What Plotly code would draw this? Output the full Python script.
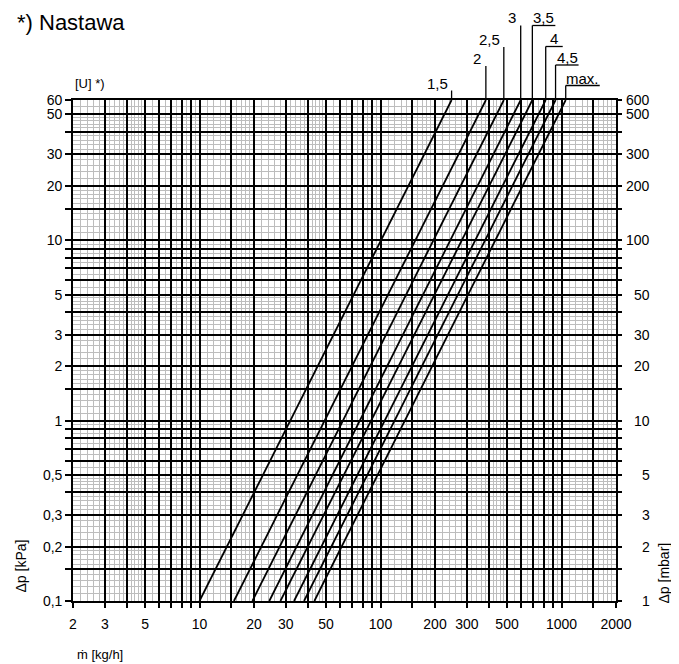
import math
import plotly.graph_objects as go

# ---------------- data ----------------
settings = ["1,5", "2", "2,5", "3", "3,5", "4", "4,5", "max."]
dp_min_kpa = 0.1
dp_max_kpa = 60
flow_at_dp_min = [10, 15.5, 19.6, 24.3, 28.0, 33.3, 37.8, 43.1]      # kg/h at 0.1 kPa
flow_at_dp_max = [247, 382, 480, 595, 690, 818, 927, 1055]           # kg/h at 60 kPa

x_tick_values = [2, 3, 5, 10, 20, 30, 50, 100, 200, 300, 500, 1000, 2000]
x_tick_labels = ["2", "3", "5", "10", "20", "30", "50", "100", "200", "300", "500", "1000", "2000"]
y_tick_values = [0.1, 0.2, 0.3, 0.5, 1, 2, 3, 5, 10, 20, 30, 50, 60]
y_tick_labels = ["0,1", "0,2", "0,3", "0,5", "1", "2", "3", "5", "10", "20", "30", "50", "60"]
y2_tick_values = [1, 2, 3, 5, 10, 20, 30, 50, 100, 200, 300, 500, 600]
y2_tick_labels = ["1", "2", "3", "5", "10", "20", "30", "50", "100", "200", "300", "500", "600"]

# log-paper grid mantissas (per decade)
major_mantissas = [1, 1.5, 2, 3, 4, 5, 6, 7, 8, 9]
minor_mantissas = [1.1, 1.2, 1.3, 1.4, 1.6, 1.7, 1.8, 1.9,
                   2.2, 2.4, 2.6, 2.8, 3.2, 3.4, 3.6, 3.8,
                   4.2, 4.4, 4.6, 4.8, 5.5, 6.5, 7.5, 8.5, 9.5]

# ---------------- layout constants ----------------
OFF = 8                       # default body margin of the html page
W, H = 679 - OFF, 664 - OFF
ML, MT = 73 - OFF, 100 - OFF
PW, PH = 543, 501
MR, MB = W - ML - PW, H - MT - PH
FONT = "Liberation Sans, Arial, Helvetica, sans-serif"


def px_x(page_x):            # page pixel -> paper x
    return (page_x - OFF - ML) / PW


def px_y(page_y):            # page pixel -> paper y
    return (MT + PH - (page_y - OFF)) / PH


# label leader style: (height of underline above plot top [px], underline left, right offset [px])
label_style = [(9.5, -29, 0), (34, -17, 0), (53, -28, 0), (74.5, -18, 0),
               (74.5, 0, 23), (53.5, 0, 17), (35, 0, 23), (14.5, 0, 34)]


def grid_values(lo, hi, mantissas):
    out = []
    for k in range(-3, 5):
        for m in mantissas:
            v = round(m * 10 ** k, 8)
            if lo * 0.9999 <= v <= hi * 1.0001:
                out.append(v)
    return sorted(out)


def tick_text(vals, labelled_vals, labels):
    lut = {round(v, 8): t for v, t in zip(labelled_vals, labels)}
    return [lut.get(round(v, 8), "") for v in vals]


x_lo, x_hi = 2, 2000
y_lo, y_hi = dp_min_kpa, dp_max_kpa

x_major = grid_values(x_lo, x_hi, major_mantissas)
x_minor = grid_values(x_lo, x_hi, minor_mantissas)
y_major = grid_values(y_lo, y_hi, major_mantissas)
y_minor = grid_values(y_lo, y_hi, minor_mantissas)
y2_major = grid_values(y_lo * 10, y_hi * 10, major_mantissas)

fig = go.Figure()

for name, lo, hi in zip(settings, flow_at_dp_min, flow_at_dp_max):
    fig.add_trace(go.Scatter(x=[lo, hi], y=[dp_min_kpa, dp_max_kpa], mode="lines",
                             line=dict(color="black", width=1.8), name=name,
                             showlegend=False, hoverinfo="skip"))

# invisible trace so the right (mbar) axis is drawn
fig.add_trace(go.Scatter(x=[x_lo], y=[1], yaxis="y2", mode="markers",
                         marker=dict(opacity=0), showlegend=False, hoverinfo="skip"))

shapes = []
annotations = []
for name, hi, (h, dx0, dx1) in zip(settings, flow_at_dp_max, label_style):
    level = 1 + h / PH
    shapes.append(dict(type="line", xref="x", yref="paper", x0=hi, x1=hi, y0=1, y1=level,
                       line=dict(color="black", width=1.3)))
    shapes.append(dict(type="line", xref="x", xsizemode="pixel", xanchor=hi, x0=dx0, x1=dx1,
                       yref="paper", y0=level, y1=level, line=dict(color="black", width=1.3)))
    annotations.append(dict(text=name, xref="x", x=math.log10(hi), xshift=(dx0 + dx1) / 2,
                            yref="paper", y=level, yanchor="bottom", xanchor="center",
                            yshift=-3, showarrow=False,
                            font=dict(size=15, color="black", family=FONT)))

# right-hand (mbar) tick labels, right aligned
for v, t in zip(y2_tick_values, y2_tick_labels):
    annotations.append(dict(text=t, xref="paper", x=px_x(652), xanchor="right",
                            yref="y2", y=math.log10(v), yanchor="middle", showarrow=False,
                            font=dict(size=14, color="black", family=FONT)))

annotations += [
    dict(text="*) Nastawa", xref="paper", yref="paper", x=px_x(15), y=px_y(22),
         xanchor="left", yanchor="middle", showarrow=False,
         font=dict(size=22, color="black", family=FONT)),
    dict(text="[U] *)", xref="paper", yref="paper", x=px_x(73), y=px_y(83),
         xanchor="left", yanchor="middle", showarrow=False,
         font=dict(size=13, color="black", family=FONT)),
    dict(text="ṁ [kg/h]", xref="paper", yref="paper", x=px_x(75), y=px_y(654),
         xanchor="left", yanchor="middle", showarrow=False,
         font=dict(size=13, color="black", family=FONT)),
    dict(text="Δp [kPa]", xref="paper", yref="paper", x=px_x(20), y=px_y(595),
         xanchor="center", yanchor="bottom", textangle=-90, showarrow=False,
         font=dict(size=14, color="black", family=FONT)),
    dict(text="Δp [mbar]", xref="paper", yref="paper", x=px_x(663), y=px_y(605),
         xanchor="center", yanchor="bottom", textangle=-90, showarrow=False,
         font=dict(size=14, color="black", family=FONT)),
]

grid_minor_color = "#bdbdbd"

fig.update_layout(
    width=W, height=H, autosize=False,
    margin=dict(l=ML, r=MR, t=MT, b=MB, pad=0),
    paper_bgcolor="white", plot_bgcolor="white",
    font=dict(family=FONT, size=14, color="black"),
    showlegend=False,
    xaxis=dict(type="log", range=[math.log10(x_lo), math.log10(x_hi)],
               tickmode="array", tickvals=x_major,
               ticktext=tick_text(x_major, x_tick_values, x_tick_labels),
               ticks="outside", ticklen=5, tickwidth=1.6, tickcolor="black",
               ticklabelstandoff=4,
               showgrid=True, gridcolor="black", gridwidth=1.6,
               minor=dict(tickmode="array", tickvals=x_minor, showgrid=True,
                          gridcolor=grid_minor_color, gridwidth=1.4, ticks=""),
               showline=True, linecolor="black", linewidth=1.6, mirror=True,
               zeroline=False, fixedrange=True,
               tickfont=dict(size=14, color="black", family=FONT)),
    yaxis=dict(type="log", range=[math.log10(y_lo), math.log10(y_hi)],
               tickmode="array", tickvals=y_major,
               ticktext=tick_text(y_major, y_tick_values, y_tick_labels),
               ticks="outside", ticklen=6, tickwidth=1.6, tickcolor="black",
               showgrid=True, gridcolor="black", gridwidth=1.6,
               minor=dict(tickmode="array", tickvals=y_minor, showgrid=True,
                          gridcolor=grid_minor_color, gridwidth=1.4, ticks=""),
               showline=True, linecolor="black", linewidth=1.6, mirror=True,
               zeroline=False, fixedrange=True,
               tickfont=dict(size=14, color="black", family=FONT)),
    yaxis2=dict(type="log", overlaying="y", side="right",
                range=[math.log10(y_lo * 10), math.log10(y_hi * 10)],
                tickmode="array", tickvals=y2_major, showticklabels=False,
                ticks="outside", ticklen=5, tickwidth=1.6, tickcolor="black",
                showgrid=False, zeroline=False, fixedrange=True),
    shapes=shapes,
    annotations=annotations,
)

fig.write_html("out.html")
